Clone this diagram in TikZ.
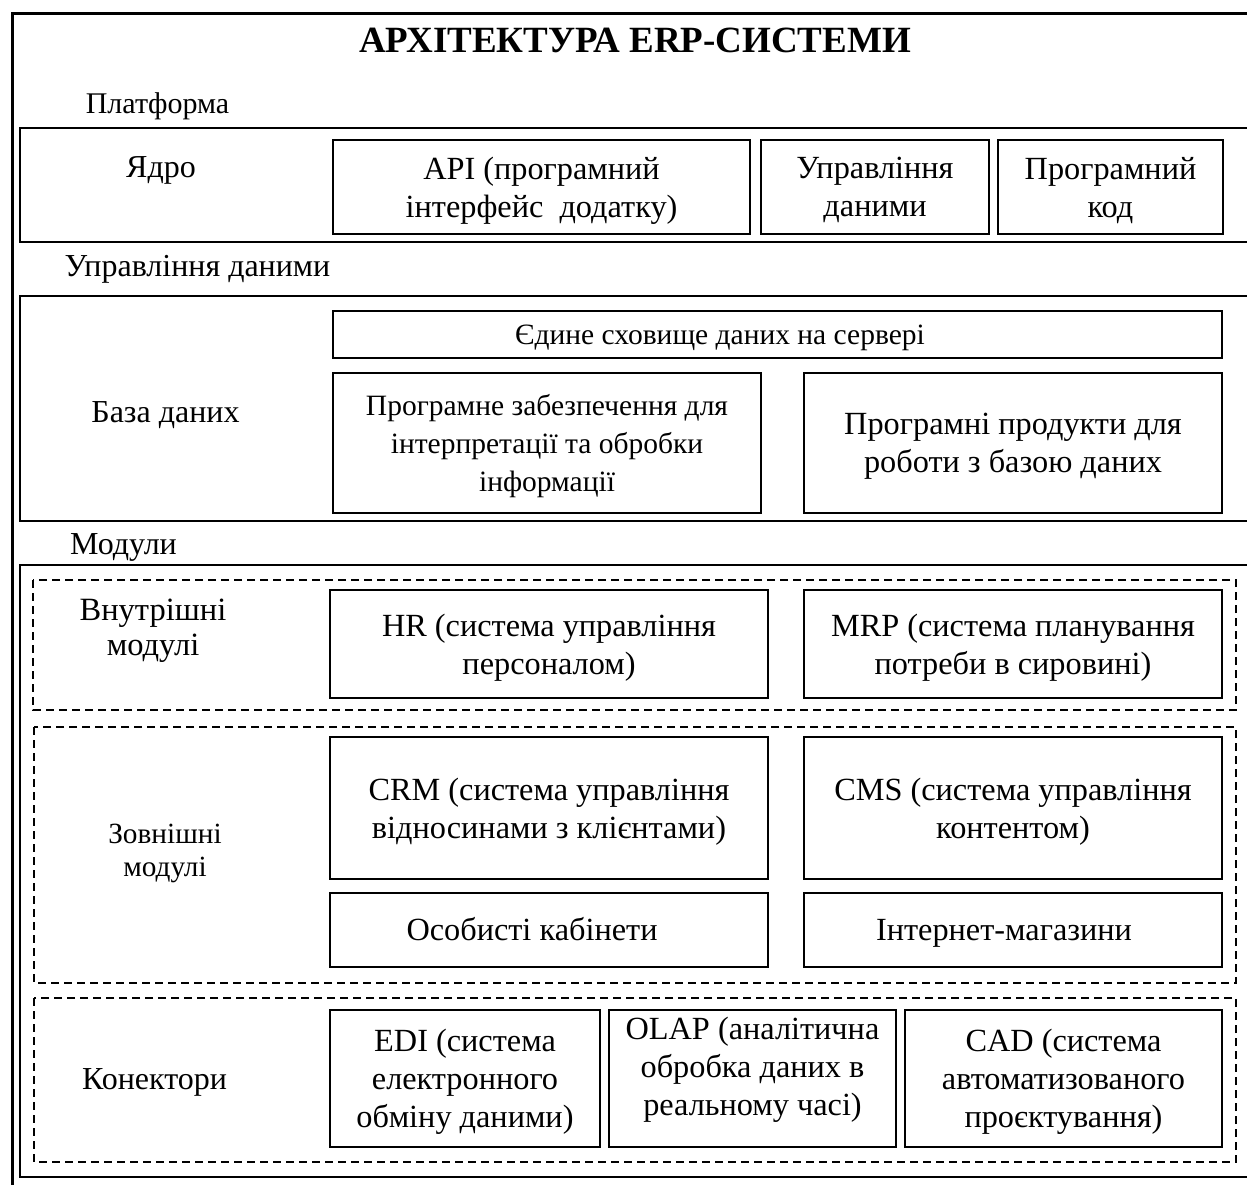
\documentclass[tikz,border=0pt]{standalone}
\usepackage{fontspec}
\setmainfont{Liberation Serif}
\tikzset{
  part/.style={draw, line width=1.6pt, align=center, inner sep=0pt, text depth=0pt,
    font=\fontsize{32.3}{38}\selectfont},
  smallpart/.style={part, font=\fontsize{29.5}{38}\selectfont},
  group/.style={draw, line width=1.4pt, dash pattern=on 8pt off 5pt},
  layer/.style={draw, line width=1.6pt},
  caption/.style={align=center, inner sep=0pt, text depth=0pt,
    font=\fontsize{32}{35}\selectfont}
}

\begin{document}
\begin{tikzpicture}[x=1pt,y=-1pt]
  \clip (0,0) rectangle (1247,1185);
  % frame and layers
  \draw[line width=3pt] (12,14) rectangle (1265,1195);
  \draw[layer] (20,128) rectangle (1260,242);
  \draw[layer] (20,296) rectangle (1260,521);
  \draw[layer] (20,565) rectangle (1260,1177);
  \draw[group] (33,580) rectangle (1236,710);
  \draw[group] (34,727) rectangle (1236,983);
  \draw[group] (34,998) rectangle (1236,1162);

  \node[inner sep=0pt, anchor=base, font=\fontsize{37}{42}\selectfont\bfseries] (title) at (635,53) {АРХІТЕКТУРА ERP-СИСТЕМИ};

  % platform
  \node[caption, anchor=base, font=\fontsize{30}{35}\selectfont] (platform) at (157.5,114) {Платформа};
  \node[caption, anchor=base] (core) at (161,178) {Ядро};
  \node[part, minimum width=417, minimum height=94] (api) at (541.5,187) {API (програмний\\інтерфейс\ \ додатку)};
  \node[part, minimum width=228, minimum height=94] (datactl) at (875,187) {Управління\\даними};
  \node[part, minimum width=225, minimum height=94] (code) at (1110.5,187) {Програмний\\код};

  % data management
  \node[caption, anchor=base] (datamgmt) at (197.5,276) {Управління даними};
  \node[caption, anchor=base] (db) at (165.5,422) {База даних};
  \node[smallpart, minimum width=889, minimum height=47, text height=19pt] (storage) at (777.5,334.5) {Єдине сховище даних на сервері\hspace*{115pt}};
  \node[smallpart, minimum width=428, minimum height=140] (soft) at (547,443) {Програмне забезпечення для\\інтерпретації та обробки\\інформації};
  \node[part, minimum width=418, minimum height=140] (dbtools) at (1013,443) {Програмні продукти для\\роботи з базою даних};

  % modules
  \node[caption, anchor=base] (modules) at (123.5,554) {Модули};
  \node[caption, font=\fontsize{32.5}{35}\selectfont] (inner) at (153,627) {Внутрішні\\модулі};
  \node[part, minimum width=438, minimum height=108] (hr) at (549,644) {HR (система управління\\персоналом)};
  \node[part, minimum width=418, minimum height=108] (mrp) at (1013,644) {MRP (система планування\\потреби в сировині)};

  \node[caption, font=\fontsize{29.3}{33}\selectfont] (outer) at (165,850.5) {Зовнішні\\модулі};
  \node[part, minimum width=438, minimum height=142] (crm) at (549,808) {CRM (система управління\\відносинами з клієнтами)};
  \node[part, minimum width=418, minimum height=142] (cms) at (1013,808) {CMS (система управління\\контентом)};
  \node[part, minimum width=438, minimum height=74, text height=20pt] (cabinet) at (549,930) {Особисті кабінети\hspace*{34pt}};
  \node[part, minimum width=418, minimum height=74, text height=20pt] (shop) at (1013,930) {Інтернет-магазини\hspace*{18pt}};

  \node[caption, anchor=base] (connectors) at (154.5,1089) {Конектори};
  \node[part, minimum width=270, minimum height=137] (edi) at (465,1078.5) {EDI (система\\електронного\\обміну даними)};
  \node[part, minimum width=287, minimum height=137] (olap) at (752.5,1078.5) {};
  \node[part, draw=none, anchor=north, yshift=-7pt] (olaptext) at (olap.north) {OLAP (аналітична\\обробка даних в\\реальному часі)};
  \node[part, minimum width=317, minimum height=137] (cad) at (1063.5,1078.5) {CAD (система\\автоматизованого\\проєктування)};
\end{tikzpicture}
\end{document}
